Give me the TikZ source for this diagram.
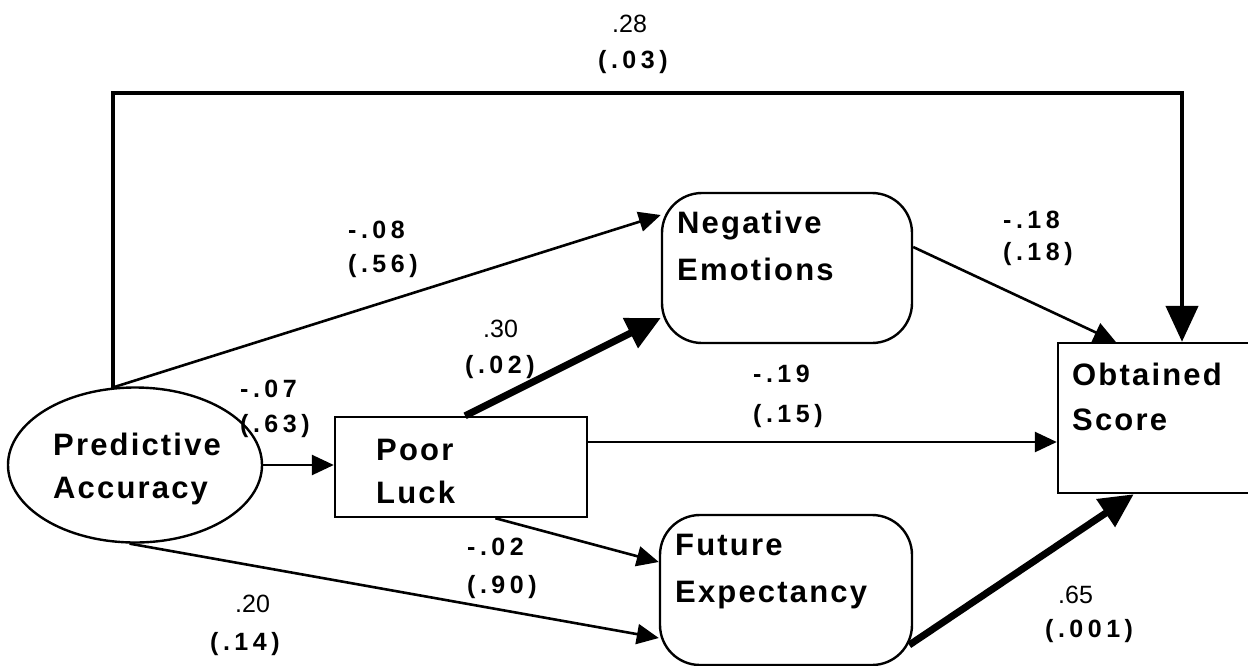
\documentclass[tikz,border=0pt]{standalone}
\usepackage{fontspec}
\setmainfont{Liberation Sans}
\usetikzlibrary{arrows.meta,shapes.geometric,calc}

\begin{document}
\begin{tikzpicture}[x=1pt,y=-1pt,
  frame/.style={draw, line width=2.4pt, inner sep=0pt},
  roundbox/.style={frame, rectangle, rounded corners=40pt},
  nodetext/.style={anchor=base west, inner sep=0pt,
    font=\fontsize{31}{47}\selectfont\bfseries\addfontfeatures{LetterSpace=7}},
  coef/.style={anchor=base west, inner sep=0pt,
    font=\fontsize{25}{35}\selectfont},
  coefsp/.style={anchor=base west, inner sep=0pt,
    font=\fontsize{25}{35}\selectfont\bfseries\addfontfeatures{LetterSpace=18}},
  arr/.style={line width=2.6pt, -{Triangle[length=22pt,width=20pt]}},
  heavy/.style={line width=7pt, -{Triangle[length=34pt,width=32pt]}},
  direct/.style={line width=4.5pt, -{Triangle[length=36pt,width=32pt]}}
]
\useasboundingbox (0,0) rectangle (1248,665);
\fill[white] (0,0) rectangle (1248,665);

% variables
\node[frame, ellipse, minimum width=254pt, minimum height=155pt] (pa) at (135,465) {};
\node[frame, rectangle, minimum width=252pt, minimum height=100pt] (pl) at (461,467) {};
\node[roundbox, minimum width=250pt, minimum height=150pt] (ne) at (787,268) {};
\node[roundbox, minimum width=252pt, minimum height=150pt] (fe) at (786,590) {};
\node[frame, rectangle, minimum width=194pt, minimum height=150pt] (os) at (1155,418) {};

% variable names
\node[nodetext] (pa1) at (53,455) {Predictive};
\node[nodetext] (pa2) at (53,498) {Accuracy};
\node[nodetext] (pl1) at (376,460) {Poor};
\node[nodetext] (pl2) at (376,503) {Luck};
\node[nodetext] (ne1) at (677,233) {Negative};
\node[nodetext] (ne2) at (677,280) {Emotions};
\node[nodetext] (fe1) at (675,555) {Future};
\node[nodetext] (fe2) at (675,602) {Expectancy};
\node[nodetext] (os1) at (1072,385) {Obtained};
\node[nodetext] (os2) at (1072,430) {Score};

% paths
\coordinate (turn) at (1182,93);
\draw[direct] (pa.106) |- (turn) -- (turn |- os.north);
\draw[arr] (pa.106) -- ([yshift=53pt]ne.west);
\draw[arr] (pa.east) -- (pa.east -| pl.west);
\draw[heavy] ($(pl.north west)!0.516!(pl.north east)$) -- ([yshift=-50pt]ne.west);
\draw[arr] ([yshift=25pt]pl.east) -- ([yshift=25pt]pl.east -| os.west);
\draw[arr] ($(pl.south west)!0.635!(pl.south east)$) -- ([yshift=28pt]fe.west);
\draw[arr] (pa.266) -- ([yshift=-48pt]fe.west);
\draw[arr] ([yshift=21pt]ne.east) -- ([xshift=59pt]os.north west);
\draw[heavy] ([xshift=-4pt,yshift=-55pt]fe.east) -- ([xshift=77pt]os.south west);

% path coefficients (p values)
\node[coef]   (c1a) at (612,32)   {.28};
\node[coefsp] (c1b) at (598,68)   {(.03)};
\node[coefsp] (c2a) at (348,238)  {-.08};
\node[coefsp] (c2b) at (348,272)  {(.56)};
\node[coefsp] (c3a) at (240,397)  {-.07};
\node[coefsp] (c3b) at (240,432)  {(.63)};
\node[coef]   (c4a) at (483,337)  {.30};
\node[coefsp] (c4b) at (465,373)  {(.02)};
\node[coefsp] (c5a) at (753,382)  {-.19};
\node[coefsp] (c5b) at (753,422)  {(.15)};
\node[coefsp] (c6a) at (1003,228) {-.18};
\node[coefsp] (c6b) at (1003,260) {(.18)};
\node[coefsp] (c7a) at (467,555)  {-.02};
\node[coefsp] (c7b) at (467,593)  {(.90)};
\node[coef]   (c8a) at (235,612)  {.20};
\node[coefsp] (c8b) at (210,650)  {(.14)};
\node[coef]   (c9a) at (1058,603) {.65};
\node[coefsp] (c9b) at (1045,637) {(.001)};
\end{tikzpicture}
\end{document}
